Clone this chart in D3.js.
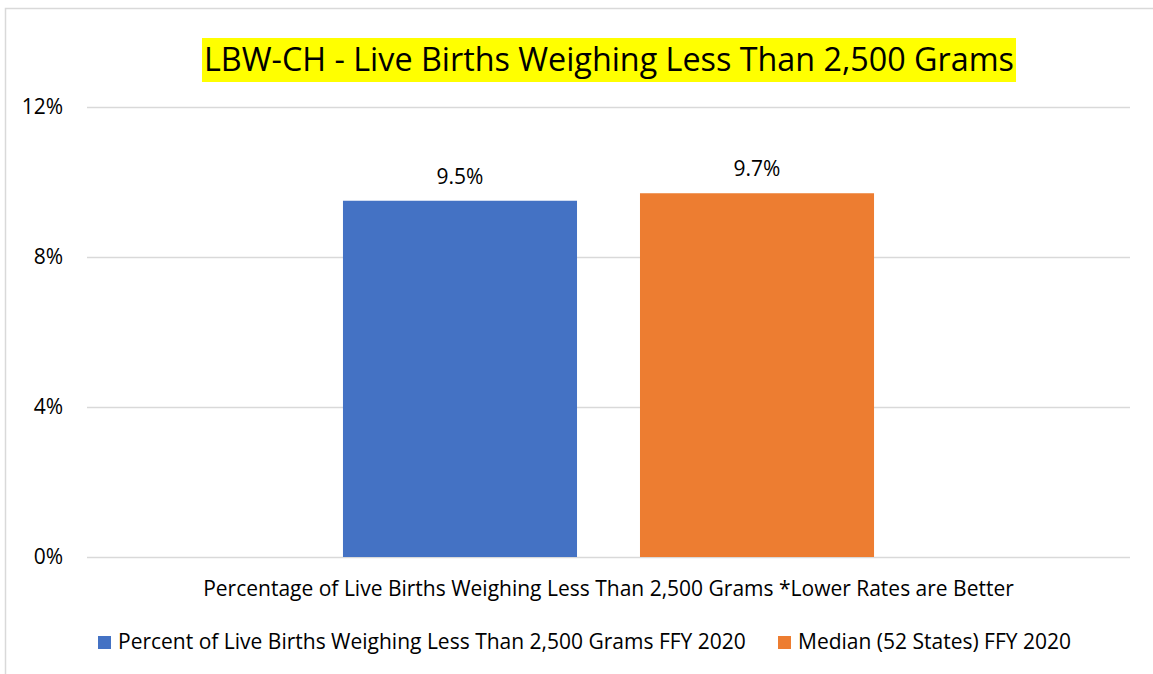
<!DOCTYPE html>
<html>
<head>
<meta charset="utf-8">
<script src="https://cdn.jsdelivr.net/npm/d3@7"></script>
<style>
  body { margin: 0; background: #fff; }
  text { font-family: "Open Sans", "Noto Sans", sans-serif; fill: #000; }
</style>
</head>
<body>
<div id="container"></div>
<script>
// ---------------- data ----------------
const title = "LBW-CH - Live Births Weighing Less Than 2,500 Grams";
const categories = ["Percentage of Live Births Weighing Less Than 2,500 Grams *Lower Rates are Better"];
const seriesNames = [
  "Percent of Live Births Weighing Less Than 2,500 Grams FFY 2020",
  "Median (52 States) FFY 2020"
];
const seriesValues = [9.5, 9.7];
const seriesColors = ["#4472c4", "#ed7d31"];
const yTicks = [0, 4, 8, 12];

// ---------------- svg ----------------
const width = 1153;
const height = 674;
const plot = { left: 87, right: 1130, top: 107, bottom: 557 };
const fs = "21px";

const svg = d3.select("#container").append("svg")
  .attr("width", width)
  .attr("height", height);

// chart border (top / left visible)
svg.append("rect")
  .attr("x", 5.5).attr("y", 8.5)
  .attr("width", 1160).attr("height", 700)
  .attr("fill", "none")
  .attr("stroke", "#d9d9d9")
  .attr("stroke-width", 1.5);

// title highlight goes first so it sits under the text
const titleBg = svg.append("rect").attr("fill", "#ffff00");

// ---------------- scales ----------------
const y = d3.scaleLinear().domain([0, 12]).range([plot.bottom, plot.top]);

const x0 = d3.scaleBand()
  .domain(categories)
  .range([plot.left, plot.right])
  .paddingInner(0)
  .paddingOuter(0.482);

const x1 = d3.scaleBand()
  .domain(seriesNames)
  .range([0, x0.bandwidth()])
  .paddingInner(0.212)
  .paddingOuter(0);

// ---------------- gridlines + y axis ----------------
const yAxis = d3.axisLeft(y)
  .tickValues(yTicks)
  .tickFormat(d => d + "%")
  .tickSize(-(plot.right - plot.left))
  .tickPadding(24);

const gy = svg.append("g")
  .attr("transform", "translate(" + plot.left + ",0)")
  .call(yAxis);
gy.select(".domain").remove();
gy.selectAll(".tick line").attr("stroke", "#d9d9d9").attr("stroke-width", 1.5);
gy.selectAll(".tick text")
  .style("font-size", fs)
  .attr("fill", "#000");

// ---------------- bars ----------------
const group = svg.append("g")
  .attr("transform", "translate(" + x0(categories[0]) + ",0)");

group.selectAll("rect")
  .data(seriesNames)
  .enter()
  .append("rect")
  .attr("x", d => x1(d))
  .attr("y", (d, i) => y(seriesValues[i]))
  .attr("width", x1.bandwidth())
  .attr("height", (d, i) => y(0) - y(seriesValues[i]))
  .attr("fill", (d, i) => seriesColors[i]);

group.selectAll("text.val")
  .data(seriesNames)
  .enter()
  .append("text")
  .attr("class", "val")
  .attr("x", d => x1(d) + x1.bandwidth() / 2)
  .attr("y", (d, i) => y(seriesValues[i]) - 17)
  .attr("text-anchor", "middle")
  .style("font-size", fs)
  .text((d, i) => seriesValues[i].toFixed(1) + "%");

// ---------------- category label ----------------
svg.append("text")
  .attr("x", x0(categories[0]) + x0.bandwidth() / 2)
  .attr("y", 596)
  .attr("text-anchor", "middle")
  .style("font-size", fs)
  .text(categories[0]);

// ---------------- title ----------------
const titleText = svg.append("text")
  .attr("x", 609)
  .attr("y", 71)
  .attr("text-anchor", "middle")
  .style("font-size", "32.3px")
  .text(title);
const tb = titleText.node().getBBox();
titleBg
  .attr("x", tb.x - 2)
  .attr("y", 38)
  .attr("width", tb.width + 4)
  .attr("height", 44);

// ---------------- legend ----------------
const legendX = [98, 778];
const legend = svg.selectAll("g.legend")
  .data(seriesNames)
  .enter()
  .append("g")
  .attr("class", "legend")
  .attr("transform", (d, i) => "translate(" + legendX[i] + ",636)");

legend.append("rect")
  .attr("width", 13).attr("height", 13)
  .attr("fill", (d, i) => seriesColors[i]);

legend.append("text")
  .attr("x", 20)
  .attr("y", 13)
  .style("font-size", fs)
  .text(d => d);
</script>
</body>
</html>
